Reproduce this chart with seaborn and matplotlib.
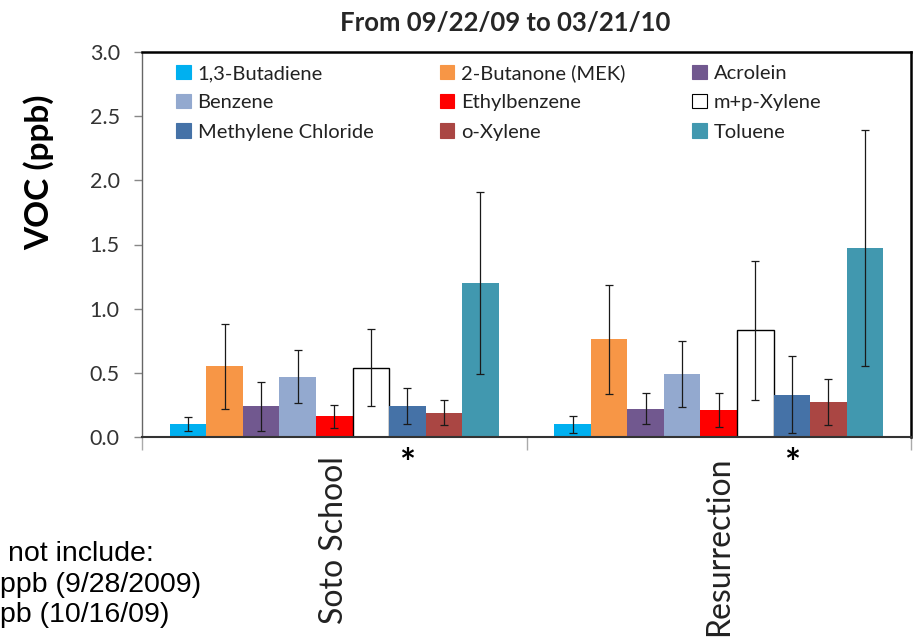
import numpy as np
import pandas as pd
import seaborn as sns
import matplotlib
matplotlib.use("Agg")
import matplotlib.pyplot as plt
import matplotlib.transforms as mtransforms
from matplotlib.patches import Patch
from matplotlib.ticker import FormatStrFormatter

# ---------------- data ----------------
sites = ["Soto School", "Resurrection"]
compounds = ["1,3-Butadiene", "2-Butanone (MEK)", "Acrolein", "Benzene",
             "Ethylbenzene", "m+p-Xylene", "Methylene Chloride", "o-Xylene",
             "Toluene"]
soto_mean = [0.10, 0.55, 0.24, 0.47, 0.16, 0.54, 0.24, 0.19, 1.20]
soto_err = [0.055, 0.33, 0.19, 0.205, 0.09, 0.30, 0.14, 0.095, 0.71]
res_mean = [0.10, 0.76, 0.22, 0.49, 0.21, 0.83, 0.33, 0.27, 1.47]
res_err = [0.067, 0.425, 0.12, 0.255, 0.135, 0.54, 0.30, 0.18, 0.92]
y_ticks = [0.0, 0.5, 1.0, 1.5, 2.0, 2.5, 3.0]
title = "From 09/22/09 to 03/21/10"
ylabel = "VOC (ppb)"
note_lines = ["not include:", "ppb (9/28/2009)", "pb (10/16/09)"]
flagged = "Methylene Chloride"

colors = ["#00B0F0", "#F79646", "#71588F", "#93A9CF", "#FF0000",
          "#FFFFFF", "#4572A7", "#AA4643", "#4198AF"]

df = pd.DataFrame({
    "site": np.repeat(sites, len(compounds)),
    "compound": compounds * len(sites),
    "voc": soto_mean + res_mean,
    "err": soto_err + res_err,
})

# ---------------- style ----------------
sns.set_style("white")
plt.rcParams["font.family"] = ["Lato", "DejaVu Sans"]

fig = plt.figure(figsize=(9.15, 6.38), dpi=100)
ax = fig.add_axes([142 / 915, 1 - 437 / 638, (911 - 142) / 915, (437 - 52) / 638])

sns.barplot(data=df, x="site", y="voc", hue="compound", order=sites,
            hue_order=compounds, palette=colors, saturation=1, width=0.855,
            errorbar=None, legend=False, linewidth=0, ax=ax)

# error bars from the data, at bar centres
lookup = df.set_index(["compound", "site"])
xs, ys, es = [], [], []
for ci, cont in enumerate(ax.containers):
    comp = compounds[ci]
    for bar, site in zip(cont, sites):
        xs.append(bar.get_x() + bar.get_width() / 2)
        ys.append(lookup.loc[(comp, site), "voc"])
        es.append(lookup.loc[(comp, site), "err"])
        if colors[ci].upper() == "#FFFFFF":
            bar.set_edgecolor("black")
            bar.set_linewidth(1.0)
ax.errorbar(xs, ys, yerr=es, fmt="none", ecolor="#1a1a1a", elinewidth=0.9,
            capsize=3, capthick=0.9, zorder=5)

# asterisks under flagged compound
trans = mtransforms.blended_transform_factory(ax.transData, ax.transAxes)
for bar in ax.containers[compounds.index(flagged)]:
    ax.text(bar.get_x() + bar.get_width() / 2, -0.072, "*", transform=trans,
            ha="center", va="center", fontsize=27, fontweight="bold",
            color="black")

# axes
ax.set_ylim(0, 3.0)
ax.set_xlim(-0.5, len(sites) - 0.5)
ax.set_yticks(y_ticks)
ax.yaxis.set_major_formatter(FormatStrFormatter("%.1f"))
ax.tick_params(axis="y", left=True, length=6, width=1, color="#888888",
               labelsize=15.5, labelcolor="#333333", pad=10)
ax.set_xticks(range(len(sites)))
ax.set_xticklabels(sites, rotation=90, fontsize=23, color="#222222")
ax.tick_params(axis="x", which="major", length=0, pad=14)
ax.set_xticks(np.arange(-0.5, len(sites), 1.0), minor=True)
ax.tick_params(axis="x", which="minor", bottom=True, length=9, width=1,
               color="#aaaaaa")
ax.set_xlabel("")
ax.set_ylabel(ylabel, fontsize=24, fontweight="bold", color="black")
ax.yaxis.set_label_coords((54 - 142) / 769, (437 - 172) / 385)

for side in ["top", "right"]:
    ax.spines[side].set_color("black")
    ax.spines[side].set_linewidth(1.8)
ax.spines["left"].set_color("#666666")
ax.spines["left"].set_linewidth(1.0)
ax.spines["bottom"].set_color("#333333")
ax.spines["bottom"].set_linewidth(1.5)

# legend: row-wise fill like the original
order = [0, 3, 6, 1, 4, 7, 2, 5, 8]
handles = [Patch(facecolor=colors[i],
                 edgecolor="black" if colors[i].upper() == "#FFFFFF" else colors[i],
                 linewidth=0.8) for i in order]
labels = [compounds[i] for i in order]
ax.legend(handles, labels, ncol=3, frameon=False, loc="upper left",
          bbox_to_anchor=((176 - 142) / 769, (437 - 64) / 385),
          borderpad=0, borderaxespad=0, handlelength=0.72, handleheight=0.72,
          handletextpad=0.35, columnspacing=3.3, labelspacing=0.6,
          fontsize=14.5, labelcolor="#222222")

fig.text(505 / 915, 1 - 23 / 638, title, ha="center", va="center",
         fontsize=18.5, fontweight="bold")

note_x = [8, 0, 0]
note_y = [561, 592, 622]
for t, nx, ny in zip(note_lines, note_x, note_y):
    fig.text(nx / 915, 1 - ny / 638, t, ha="left", va="baseline",
             fontsize=20.5, family=["Liberation Sans", "DejaVu Sans"],
             color="black")

fig.savefig("out.png", dpi=100)
